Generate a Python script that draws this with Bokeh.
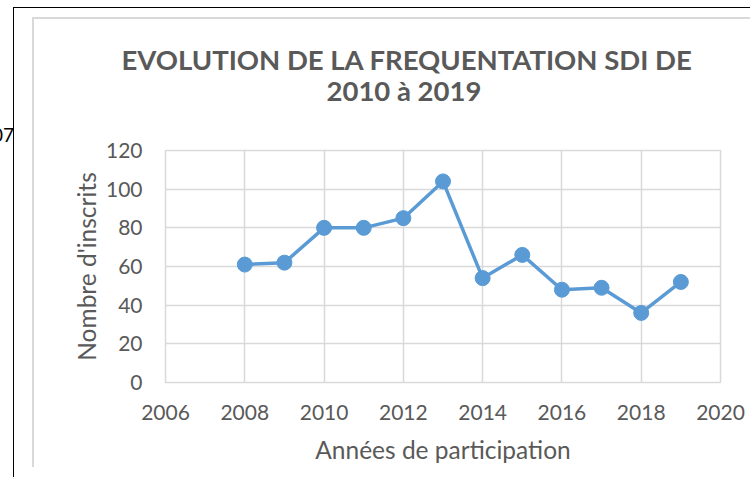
from bokeh.plotting import figure
from bokeh.models import Range1d, FixedTicker, Title, Div
from bokeh.layouts import column
from bokeh.embed import file_html
from bokeh.resources import INLINE

years = [2008, 2009, 2010, 2011, 2012, 2013, 2014, 2015, 2016, 2017, 2018, 2019]
inscrits = [61, 62, 80, 80, 85, 104, 54, 66, 48, 49, 36, 52]
x_ticks = [2006, 2008, 2010, 2012, 2014, 2016, 2018, 2020]
y_ticks = [0, 20, 40, 60, 80, 100, 120]
title_1 = "EVOLUTION DE LA FREQUENTATION SDI DE"
title_2 = "2010 à 2019"
x_label = "Années de participation"
y_label = "Nombre d'inscrits"
fragment = "07"

FONT = "Lato"
GREY = "#595959"
BLUE = "#5b9bd5"
GRID = "#d9d9d9"

bg = ", ".join([
    "linear-gradient(#000,#000) 13px 7px / 1px 470px no-repeat",
    "linear-gradient(#000,#000) 13px 7px / 737px 1px no-repeat",
    "linear-gradient(#d9d9d9,#d9d9d9) 32px 17px / 2px 450px no-repeat",
    "linear-gradient(#d9d9d9,#d9d9d9) 32px 17px / 718px 2px no-repeat",
    "#ffffff",
])

fig = figure(width=750, height=477, output_backend="svg", toolbar_location=None,
             x_range=Range1d(2006, 2020), y_range=Range1d(0, 120),
             min_border_left=165, min_border_right=30, min_border_top=150, min_border_bottom=95,
             styles={"background": bg})
fig.border_fill_color = None
fig.background_fill_color = "white"
fig.outline_line_color = GRID
fig.outline_line_width = 1.5

for ax in (fig.xaxis[0], fig.yaxis[0]):
    ax.axis_line_color = None
    ax.major_tick_line_color = None
    ax.minor_tick_line_color = None
    ax.major_label_text_font = FONT
    ax.major_label_text_font_size = "21px"
    ax.major_label_text_color = GREY
    ax.axis_label_text_font = FONT
    ax.axis_label_text_font_size = "24.5px"
    ax.axis_label_text_font_style = "normal"
    ax.axis_label_text_color = GREY

fig.xaxis[0].ticker = FixedTicker(ticks=x_ticks)
fig.yaxis[0].ticker = FixedTicker(ticks=y_ticks)
fig.xaxis[0].axis_label = x_label
fig.yaxis[0].axis_label = y_label
fig.xaxis[0].major_label_standoff = 16
fig.xaxis[0].axis_label_standoff = 12
fig.yaxis[0].major_label_standoff = 17
fig.yaxis[0].axis_label_standoff = 2

fig.xgrid[0].ticker = FixedTicker(ticks=x_ticks)
fig.ygrid[0].ticker = FixedTicker(ticks=y_ticks)
for g in (fig.xgrid[0], fig.ygrid[0]):
    g.grid_line_color = GRID
    g.grid_line_width = 1.5

fig.line(years, inscrits, line_color=BLUE, line_width=3.5)
fig.scatter(years, inscrits, size=15, fill_color=BLUE, line_color=BLUE)

# above panels stack outward from the frame: spacer, line 2, line 1
fig.add_layout(Title(text=" ", text_font_size="1px", standoff=43), "above")
fig.add_layout(Title(text=title_2, align="left", offset=161, standoff=-4, text_font=FONT,
                     text_font_style="bold", text_font_size="27.5px", text_color=GREY), "above")
fig.add_layout(Title(text=title_1, align="left", offset=-44, standoff=-4, text_font=FONT,
                     text_font_style="bold", text_font_size="27.5px", text_color=GREY), "above")

frag = Div(text='<span style="font-family:Lato;font-size:19px;line-height:19px;color:#000">'
                + fragment + '</span>',
           styles={"position": "absolute", "left": "-8px", "top": "125px",
                   "font-family": "Lato", "font-size": "19px", "line-height": "19px",
                   "color": "black", "margin": "0", "padding": "0"})

p = column(fig, frag, spacing=0)

open("out.html", "w").write(file_html(p, INLINE))
